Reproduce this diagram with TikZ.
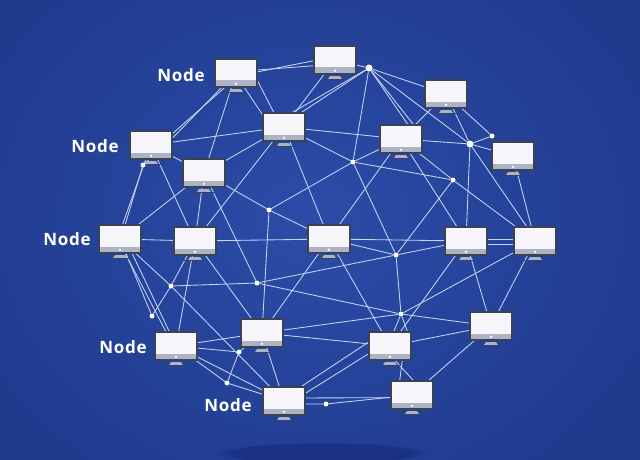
\documentclass[tikz,border=0pt]{standalone}
\usepackage{fontspec}
\setmainfont{Open Sans}
\newfontfamily\labfont[LetterSpace=4]{Open Sans}
\usetikzlibrary{calc,fadings}
\definecolor{bgmid}{HTML}{2C4CA8}
\definecolor{bgout}{HTML}{1F3B8E}
\definecolor{wire}{HTML}{C6D5F4}
\definecolor{frame}{HTML}{3A4256}
\definecolor{band}{HTML}{ADB3C4}
\definecolor{scr}{HTML}{F5F5FA}
\pgfdeclarelayer{edgelayer}
\pgfsetlayers{edgelayer,main}
\tikzset{
  monitor/.style={rectangle,draw=frame,line width=1.2pt,fill=scr,minimum width=42pt,minimum height=28pt,inner sep=0pt,
    path picture={
      \fill[band] ($(path picture bounding box.south west)+(0,-6.5)$) rectangle (path picture bounding box.south east);
      \fill[white] ($(path picture bounding box.south)+(0,-3.2)$) circle (1.3pt);
    }},
  dot/.style={circle,fill=white,inner sep=0pt,minimum size=5pt},
  bigdot/.style={circle,fill=white,inner sep=0pt,minimum size=7pt},
  wirel/.style={draw=wire,line width=0.85pt},
  lab/.style={text=white,font=\labfont\bfseries\fontsize{17}{18}\selectfont,inner sep=0pt}
}
\begin{document}
\begin{tikzpicture}[x=1pt,y=-1pt]
\useasboundingbox (0,0) rectangle (640,460);
\begin{pgfonlayer}{edgelayer}
\fill[bgout] (0,0) rectangle (640,460);
\shade[inner color=bgmid,outer color=bgout] (-60,-90) rectangle (680,530);
\fill[black!70!blue,opacity=.22,path fading=circle with fuzzy edge 15 percent] (322,453) ellipse (105 and 11);
\end{pgfonlayer}
% monitors
\node[monitor] (n1) at (236,73) {};
\node[monitor] (n2) at (335,60) {};
\node[monitor] (n3) at (446,94) {};
\node[monitor] (n4) at (284,127) {};
\node[monitor] (n5) at (401,139) {};
\node[monitor] (n6) at (513,156) {};
\node[monitor] (n7) at (151,145) {};
\node[monitor] (n8) at (204,173) {};
\node[monitor] (n9) at (120,239) {};
\node[monitor] (n10) at (195,241) {};
\node[monitor] (n11) at (329,239) {};
\node[monitor] (n12) at (466,241) {};
\node[monitor] (n13) at (535,241) {};
\node[monitor] (n14) at (491,326) {};
\node[monitor] (n15) at (390,346) {};
\node[monitor] (n16) at (412,395) {};
\node[monitor] (n17) at (262,333) {};
\node[monitor] (n18) at (176,346) {};
\node[monitor] (n19) at (284,401) {};
\foreach \n in {n1,n2,n3,n4,n5,n6,n7,n8,n9,n10,n11,n12,n13,n14,n15,n16,n17,n18,n19}{
  \fill[band] ($(\n.south)+(-5,1.5)$) -- ($(\n.south)+(5,1.5)$) -- ($(\n.south)+(7,4.5)$) -- ($(\n.south)+(-7,4.5)$) -- cycle;
  \fill[frame] ($(\n.south)+(-11,4.5)$) rectangle ($(\n.south)+(11,5.7)$);
}
% junction dots
\node[bigdot] (d1) at (369,68) {};
\node[bigdot] (d2) at (470,144) {};
\node[dot] (d3) at (492,136) {};
\node[dot] (d4) at (353,162) {};
\node[dot] (d5) at (453,180) {};
\node[dot] (d6) at (269,210) {};
\node[dot] (d7) at (396,255) {};
\node[dot] (d8) at (257,283) {};
\node[dot] (d9) at (171,286) {};
\node[dot] (d10) at (401,314) {};
\node[dot] (d11) at (152,316) {};
\node[dot] (d12) at (239,352) {};
\node[dot] (d13) at (227,383) {};
\node[dot] (d14) at (326,404) {};
\node[dot] (d15) at (143,165) {};
% labels
\node[lab] (l1) at (181,75) {Node};
\node[lab] (l2) at (95,146) {Node};
\node[lab] (l3) at (67,239) {Node};
\node[lab] (l4) at (123,347) {Node};
\node[lab] (l5) at (228,405) {Node};
\begin{pgfonlayer}{edgelayer}
\foreach \a/\b in {
 n1.8/n2.195, n1.3/n2.182, n1.340/n4.125, n1.300/n4.150, n2/n4, d1/n2, d1/n4.60, d1/n4.40,
 n1.232/n7.28, n1.225/n7.18, n1/n8, n7/n4, n7/n8, n8/n4, n4/n10, n8/n9, n8/n10, n8/d8,
 n7.262/d15, d15/n9.70, n7.250/n9.80, n7/n10, n9/n10, n10/n11, n4/n11, n4/n5, n4/d4, d4/d6,
 d6/n8, d6/n11, d6/n17, d8/d7, d7/n12, d8/d10, d10/n14, d9/d8, n11/d7, n11/n12, n11/n15,
 n11/n17, d4/d7, d7/d10, d10/n15.75, d10/n15.40, d10/n17, d10/n13, n15/n12, n15/n17,
 n15.170/n19.40, n15.200/n19.20, n15.310/n16.130, n15.290/n16.85, n15/n14, n14/n16, n14/n12, n14/n13,
 n12.5/n13.175, n12.350/n13.190, n5/d2, n5/d5, n5/n12, n5/n11, n5/d4, d1/n5.65, d1/n5.50, n5/n3,
 d1/n3, d1/d2, d1/d4, d4/d5, d5/n13, d5/d7, d2/n12, d2/n13.120, d2/n3, d2/d3, d3/n3, d2/n6, n6/n13,
 n9/d11, n9.290/n18.125, n9.310/n18.115, n9/d9, d9/n19, d11/d9, d9/n10, n10/n18, n18/n17, n18/d12, d12/n17,
 n18/n19, n18/d13, d13/n19, d13/d12, n17/n19, n10/n17, n19.8/n16.187, n19.352/d14, d14/n16}{
  \draw[wirel] (\a) -- (\b);
}
\end{pgfonlayer}
\end{tikzpicture}
\end{document}
